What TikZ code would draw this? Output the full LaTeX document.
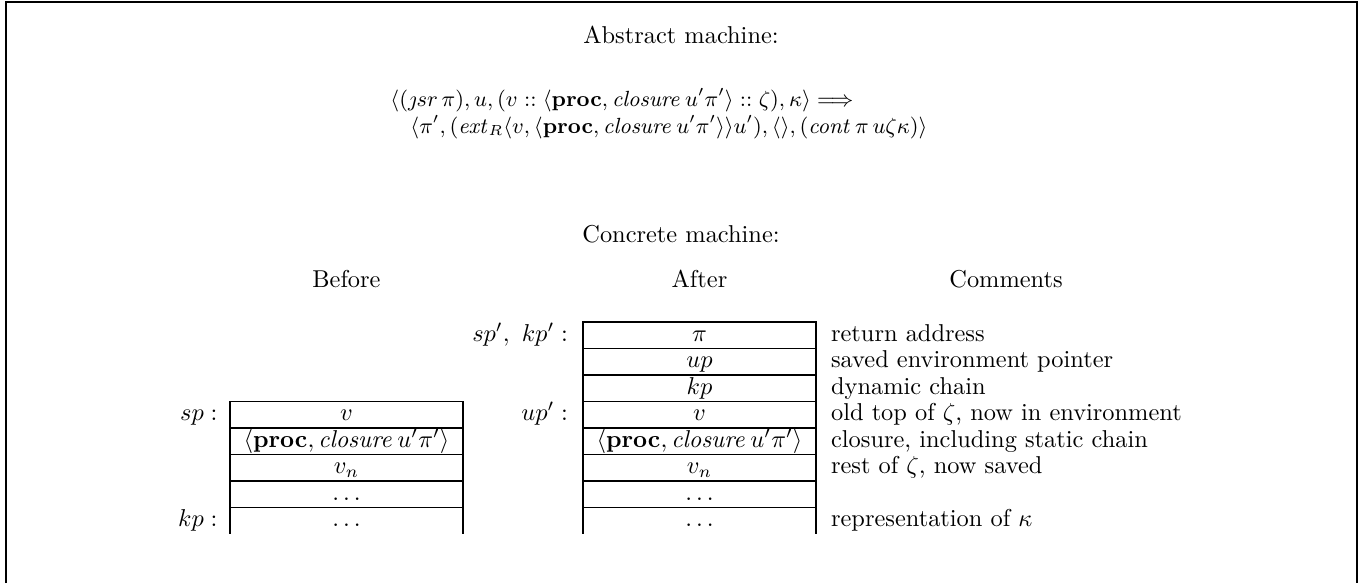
\documentclass[tikz,border=0pt]{standalone}
\usepackage{amsmath}
\usetikzlibrary{positioning}
\begin{document}
\begin{tikzpicture}[
        x=0.41pt, y=-0.41pt,
        % Titles and column heads
        heading/.style={inner sep=0pt, anchor=base},
        % Transition rule lines
        ruleline/.style={inner sep=0pt, anchor=base west, font=\small},
        % One word of the stack
        cell/.style={
            rectangle, draw, line width=0.5pt,
            minimum width=95.5pt, minimum height=10.87pt,
            inner sep=0pt, outer sep=0pt,
            text height=1.6ex, text depth=0.45ex
        },
        % Last word, open at the bottom
        opencell/.style={cell, draw=none},
        % Register pointing at a word
        ptr/.style={inner sep=0pt, text height=1.6ex, text depth=0.45ex},
        % Comment beside a word
        note/.style={inner sep=0pt, text height=1.6ex, text depth=0.45ex}
    ]
        \useasboundingbox (0,0) rectangle (1366,583);

        % Frame, open at the bottom
        \draw [line width=0.6pt] (6,583) -- (6,2) -- (1357,2) -- (1357,583);

        % Abstract machine
        \node [heading] (abs) at (681,43) {Abstract machine:};
        \node [ruleline] (r1) at (390,106)
            {$\langle(\jmath sr\,\pi), u, (v :: \langle\mathbf{proc}, \mathit{closure}\,u'\pi'\rangle :: \zeta), \kappa\rangle \Longrightarrow$};
        \node [ruleline] (r2) at (410,133)
            {$\langle\pi', (\mathit{ext}_R\langle v, \langle\mathbf{proc}, \mathit{closure}\,u'\pi'\rangle\rangle u'), \langle\rangle, (\mathit{cont}\,\pi\,u\zeta\kappa)\rangle$};

        % Concrete machine
        \node [heading] (conc) at (681,242) {Concrete machine:};
        \node [heading] (hbefore) at (346.5,287) {Before};
        \node [heading] (hafter) at (699.5,287) {After};
        \node [heading] (hcomm) at (1006,287) {Comments};

        % Stack after
        \node [cell] (a1) at (699.5,335.25) {$\pi$};
        \node [cell, below=0pt of a1] (a2) {$up$};
        \node [cell, below=0pt of a2] (a3) {$kp$};
        \node [cell, below=0pt of a3] (a4) {$v$};
        \node [cell, below=0pt of a4] (a5) {$\langle\mathbf{proc}, \mathit{closure}\,u'\pi'\rangle$};
        \node [cell, below=0pt of a5] (a6) {$v_n$};
        \node [cell, below=0pt of a6] (a7) {$\ldots$};
        \node [opencell, below=0pt of a7] (a8) {$\ldots$};
        \draw [line width=0.5pt] (a8.north west) -- (a8.south west) (a8.north east) -- (a8.south east);

        % Stack before
        \node [cell] (b1) at (346.5,414.75) {$v$};
        \node [cell, below=0pt of b1] (b2) {$\langle\mathbf{proc}, \mathit{closure}\,u'\pi'\rangle$};
        \node [cell, below=0pt of b2] (b3) {$v_n$};
        \node [cell, below=0pt of b3] (b4) {$\ldots$};
        \node [opencell, below=0pt of b4] (b5) {$\ldots$};
        \draw [line width=0.5pt] (b5.north west) -- (b5.south west) (b5.north east) -- (b5.south east);

        % Registers
        \node [ptr, left=5pt of b1] (sp) {$sp :$};
        \node [ptr, left=5pt of b5] (kp) {$kp :$};
        \node [ptr, left=6pt of a1] (spkp) {$sp',\ kp' :$};
        \node [ptr, left=6pt of a4] (up) {$up' :$};

        % Comments
        \node [note, right=6pt of a1] (c1) {return address};
        \node [note, right=6pt of a2] (c2) {saved environment pointer};
        \node [note, right=6pt of a3] (c3) {dynamic chain};
        \node [note, right=6pt of a4] (c4) {old top of $\zeta$, now in environment};
        \node [note, right=6pt of a5] (c5) {closure, including static chain};
        \node [note, right=6pt of a6] (c6) {rest of $\zeta$, now saved};
        \node [note, right=6pt of a8] (c8) {representation of $\kappa$};

    \end{tikzpicture}
\end{document}
